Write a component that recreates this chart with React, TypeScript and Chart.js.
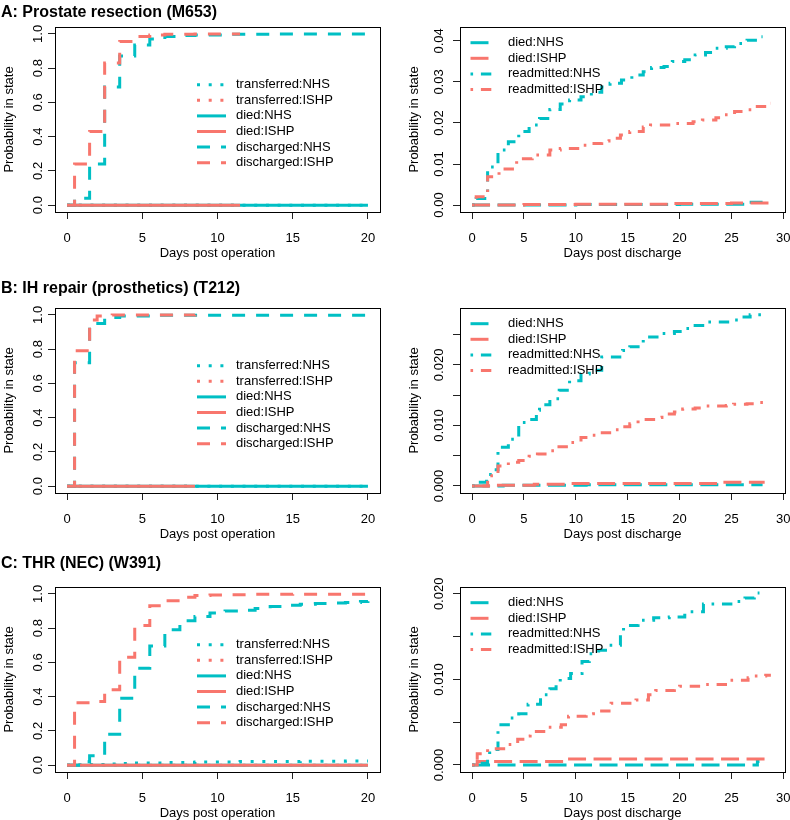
import React, { useEffect, useRef } from 'react';
import { Chart, registerables } from 'chart.js';
Chart.register(...registerables);

type Pt = [number, number];

const NHS = '#00BFC4';
const ISHP = '#F8766D';
const FONT = '"Liberation Sans", Arial, Helvetica, sans-serif';

// ---------- tick values ----------
const LEFT_X_TICKS = [0, 5, 10, 15, 20];
const RIGHT_X_TICKS = [0, 5, 10, 15, 20, 25, 30];
const LEFT_Y_TICKS = [0, 0.2, 0.4, 0.6, 0.8, 1.0];
const A_R_Y_TICKS = [0, 0.01, 0.02, 0.03, 0.04];
const B_R_Y_TICKS = [0, 0.005, 0.01, 0.015, 0.02, 0.025];
const C_R_Y_TICKS = [0, 0.005, 0.01, 0.015, 0.02];
const B_R_Y_LABELED = [0, 0.01, 0.02];
const C_R_Y_LABELED = [0, 0.01, 0.02];

// ---------- A: Prostate resection (M653) ----------
const A_transNHS: Pt[] = [[0, 0], [20, 0]];
const A_transISHP: Pt[] = [[0, 0], [11.5, 0]];
const A_diedNHS: Pt[] = [[0, 0], [20, 0]];
const A_diedISHP: Pt[] = [[0, 0], [11.5, 0]];
const A_disNHS: Pt[] = [[0, 0], [0.5, 0.04], [1.5, 0.24], [2.5, 0.69], [3.5, 0.87], [4.5, 0.935], [5.5, 0.97], [6.5, 0.984], [7.5, 0.99], [8.5, 0.994], [10.5, 0.997], [13.5, 0.999], [20, 0.999]];
const A_disISHP: Pt[] = [[0, 0], [0.5, 0.24], [1.5, 0.43], [2.5, 0.83], [3.5, 0.955], [4.5, 0.984], [5.5, 0.993], [6.5, 0.997], [8.5, 0.999], [11.5, 0.999]];

const A_r_diedNHS: Pt[] = [[0, 0], [10, 0.0001], [20, 0.0002], [26.5, 0.0007], [28, 0.0007]];
const A_r_diedISHP: Pt[] = [[0, 0], [5, 0.0001], [10, 0.0002], [19, 0.0004], [25, 0.0005], [28.8, 0.0005]];
const A_r_readNHS: Pt[] = [[0, 0], [0.4, 0.0016], [1.5, 0.0093], [2.5, 0.0134], [3.5, 0.0154], [4.5, 0.0179], [5.5, 0.0195], [6.5, 0.0211], [7.5, 0.0233], [8.5, 0.0246], [9.4, 0.0256], [10.5, 0.0264], [11.5, 0.0275], [12.5, 0.0288], [13.3, 0.0297], [14.4, 0.0305], [15.4, 0.0317], [16.5, 0.0325], [17.3, 0.0335], [18.5, 0.0338], [19.3, 0.035], [20.5, 0.0354], [21.5, 0.0366], [22.5, 0.0372], [23.3, 0.0382], [24.5, 0.0386], [25.3, 0.0394], [26.5, 0.0402], [27.5, 0.041], [28, 0.041]];
const A_r_readISHP: Pt[] = [[0, 0], [0.4, 0.002], [1.5, 0.0069], [2.6, 0.0088], [4.3, 0.0113], [5.8, 0.0122], [7.5, 0.0134], [8.5, 0.0138], [10.5, 0.0146], [11.5, 0.015], [12.5, 0.0156], [13.2, 0.0163], [14.3, 0.0171], [15.2, 0.0179], [16.5, 0.019], [17.2, 0.0195], [19.3, 0.0199], [21.3, 0.0203], [22.2, 0.0207], [23.5, 0.0213], [24.3, 0.022], [25.3, 0.0228], [26.3, 0.0232], [27.3, 0.024], [28.4, 0.0248], [28.8, 0.0248]];

// ---------- B: IH repair (prosthetics) (T212) ----------
const B_transNHS: Pt[] = [[0, 0], [20, 0]];
const B_transISHP: Pt[] = [[0, 0], [8.5, 0]];
const B_diedNHS: Pt[] = [[0, 0], [20, 0]];
const B_diedISHP: Pt[] = [[0, 0], [8.5, 0]];
const B_disNHS: Pt[] = [[0, 0], [0.5, 0.72], [1.5, 0.95], [2.5, 0.985], [3.5, 0.994], [5.5, 0.998], [20, 1.0]];
const B_disISHP: Pt[] = [[0, 0], [0.5, 0.79], [1.5, 0.97], [2, 0.994], [3, 0.999], [8.5, 1.0]];

const B_r_diedNHS: Pt[] = [[0, 0], [3, 0.0001], [11, 0.0002], [28, 0.0002]];
const B_r_diedISHP: Pt[] = [[0, 0], [2, 0.0001], [6, 0.0003], [9.5, 0.0004], [17.5, 0.0004], [24, 0.0006], [28.2, 0.0006]];
const B_r_readNHS: Pt[] = [[0, 0], [0.6, 0.0006], [1.4, 0.0019], [2.0, 0.0027], [2.5, 0.0064], [3.5, 0.0077], [4.5, 0.0105], [5.5, 0.011], [6.2, 0.0125], [6.5, 0.0134], [7.5, 0.0144], [8.4, 0.0158], [9.4, 0.0174], [10.5, 0.0185], [11.3, 0.0191], [12.5, 0.0213], [14.5, 0.0224], [15.2, 0.023], [16.5, 0.0246], [18.3, 0.0252], [19.5, 0.0255], [20.4, 0.026], [21.5, 0.0265], [22.5, 0.0271], [24.8, 0.0274], [25.8, 0.0279], [26.8, 0.0283], [28, 0.0283]];
const B_r_readISHP: Pt[] = [[0, 0], [1.5, 0.0017], [2.5, 0.0033], [3.5, 0.0039], [4.5, 0.0042], [5.5, 0.0049], [6.3, 0.0053], [7.5, 0.0058], [8.2, 0.0065], [9.5, 0.0072], [10.5, 0.008], [11.5, 0.0084], [12, 0.0088], [13.5, 0.0093], [14.2, 0.0098], [15.2, 0.0103], [16, 0.011], [17.5, 0.0113], [18.3, 0.0119], [19.5, 0.0122], [20.3, 0.0127], [21.5, 0.0129], [22.5, 0.0132], [24.5, 0.0133], [25.2, 0.0135], [26.5, 0.0136], [27.3, 0.0138], [28.2, 0.0138]];

// ---------- C: THR (NEC) (W391) ----------
const C_transNHS: Pt[] = [[0, 0], [0.5, 0.002], [1.5, 0.004], [2.5, 0.007], [3.5, 0.01], [4.5, 0.013], [6.5, 0.016], [8.5, 0.019], [11.5, 0.021], [15.5, 0.023], [18.5, 0.024], [20, 0.024]];
const C_transISHP: Pt[] = [[0, 0], [20, 0]];
const C_diedNHS: Pt[] = [[0, 0], [20, 0]];
const C_diedISHP: Pt[] = [[0, 0], [20, 0]];
const C_disNHS: Pt[] = [[0, 0], [1, 0.02], [1.5, 0.055], [2.5, 0.18], [3.5, 0.39], [4.5, 0.565], [5.5, 0.695], [6.5, 0.79], [7.5, 0.843], [8.5, 0.868], [9.5, 0.888], [10.5, 0.9], [11.5, 0.905], [12.5, 0.915], [13.5, 0.926], [14.5, 0.934], [15.5, 0.94], [16.5, 0.943], [17.5, 0.946], [18.5, 0.95], [19.5, 0.955], [20, 0.957]];
const C_disISHP: Pt[] = [[0, 0], [0.5, 0.365], [1.5, 0.372], [2.5, 0.44], [3.5, 0.63], [4.5, 0.815], [5.5, 0.93], [6.5, 0.96], [7.5, 0.98], [8.5, 0.99], [9.5, 0.993], [10.5, 0.995], [12.5, 0.997], [15, 0.998], [20, 0.999]];

const C_r_diedNHS: Pt[] = [[0, 0], [27.5, 0.0004], [27.7, 0.0004]];
const C_r_diedISHP: Pt[] = [[0, 0], [0.5, 0.0004], [9.4, 0.0007], [28.8, 0.0007]];
const C_r_readNHS: Pt[] = [[0, 0], [0.6, 0.0002], [1.5, 0.0008], [1.7, 0.0018], [2.5, 0.0047], [3.5, 0.0055], [4.5, 0.006], [5.2, 0.0068], [5.4, 0.0071], [6.6, 0.0082], [7.5, 0.0089], [8.1, 0.0094], [8.5, 0.0101], [9.5, 0.0107], [10.6, 0.0121], [11.3, 0.013], [12.2, 0.0134], [13.2, 0.014], [14.3, 0.0152], [14.6, 0.0163], [16, 0.0169], [17.5, 0.0172], [19, 0.0173], [20.5, 0.0175], [21, 0.0179], [22.3, 0.0188], [25.5, 0.0191], [26.3, 0.0195], [27.2, 0.0201], [27.7, 0.0201]];
const C_r_readISHP: Pt[] = [[0, 0], [0.5, 0.0013], [1.5, 0.0019], [3.5, 0.0024], [4.4, 0.003], [5.3, 0.0034], [5.6, 0.0039], [7.2, 0.0044], [8.6, 0.0047], [9.3, 0.0057], [11, 0.006], [11.7, 0.0063], [13.4, 0.0072], [15.8, 0.0076], [17, 0.0082], [17.7, 0.0087], [19.5, 0.009], [20, 0.0092], [22.4, 0.0094], [24.6, 0.0099], [26.6, 0.0102], [27.2, 0.0104], [28.3, 0.0105], [28.8, 0.0105]];

// ---------- styles ----------
const DOTTED = [3, 8.7];
const SOLID: number[] = [];
const DASHED = [13, 11];
const LONGDASH = [18, 7.5];
const DOTDASH = [2.6, 7.8, 10.4, 7.8];

interface Series { label: string; data: Pt[]; color: string; dash: number[] }

function leftSeries(tN: Pt[], tI: Pt[], dN: Pt[], dI: Pt[], sN: Pt[], sI: Pt[]): Series[] {
  return [
    { label: 'transferred:NHS', data: tN, color: NHS, dash: DOTTED },
    { label: 'transferred:ISHP', data: tI, color: ISHP, dash: DOTTED },
    { label: 'died:NHS', data: dN, color: NHS, dash: SOLID },
    { label: 'died:ISHP', data: dI, color: ISHP, dash: SOLID },
    { label: 'discharged:NHS', data: sN, color: NHS, dash: DASHED },
    { label: 'discharged:ISHP', data: sI, color: ISHP, dash: DASHED },
  ];
}
function rightSeries(dN: Pt[], dI: Pt[], rN: Pt[], rI: Pt[]): Series[] {
  return [
    { label: 'died:NHS', data: dN, color: NHS, dash: LONGDASH },
    { label: 'died:ISHP', data: dI, color: ISHP, dash: LONGDASH },
    { label: 'readmitted:NHS', data: rN, color: NHS, dash: DOTDASH },
    { label: 'readmitted:ISHP', data: rI, color: ISHP, dash: DOTDASH },
  ];
}

interface PanelCfg {
  left: number; top: number; width: number; height: number;
  boxLeft: number; boxRight: number; boxTop: number; boxBottom: number;
  title?: string; titleBaseline?: number;
  xMin: number; xMax: number; xTicks: number[]; xTitle: string;
  yMin: number; yMax: number; yTicks: number[]; yLabeled: number[]; yDigits: number; yLabOff: number;
  side: 'left' | 'right';
  series: Series[];
}

const ROWS = [
  { top: 0, height: 275, boxTop: 27, boxBottom: 212, titleBaseline: 16.5 },
  { top: 275, height: 275, boxTop: 33, boxBottom: 218, titleBaseline: 18 },
  { top: 550, height: 270, boxTop: 37, boxBottom: 222, titleBaseline: 18 },
];

function leftPanel(row: number, title: string, series: Series[]): PanelCfg {
  const r = ROWS[row];
  return {
    left: 0, top: r.top, width: 395, height: r.height,
    boxLeft: 55, boxRight: 380, boxTop: r.boxTop, boxBottom: r.boxBottom,
    title, titleBaseline: r.titleBaseline,
    xMin: -0.8, xMax: 20.8, xTicks: LEFT_X_TICKS, xTitle: 'Days post operation',
    yMin: -0.04, yMax: 1.04, yTicks: LEFT_Y_TICKS, yLabeled: LEFT_Y_TICKS, yDigits: 1, yLabOff: 13.5,
    side: 'left', series,
  };
}
function rightPanel(row: number, yMin: number, yMax: number, yTicks: number[], yLabeled: number[], yDigits: number, series: Series[]): PanelCfg {
  const r = ROWS[row];
  return {
    left: 395, top: r.top, width: 395, height: r.height,
    boxLeft: 65, boxRight: 390, boxTop: r.boxTop, boxBottom: r.boxBottom,
    xMin: -1.16, xMax: 30.16, xTicks: RIGHT_X_TICKS, xTitle: 'Days post discharge',
    yMin, yMax, yTicks, yLabeled, yDigits, yLabOff: 17,
    side: 'right', series,
  };
}

const PANELS: PanelCfg[] = [
  leftPanel(0, 'A: Prostate resection (M653)', leftSeries(A_transNHS, A_transISHP, A_diedNHS, A_diedISHP, A_disNHS, A_disISHP)),
  rightPanel(0, -0.0017, 0.0434, A_R_Y_TICKS, A_R_Y_TICKS, 2, rightSeries(A_r_diedNHS, A_r_diedISHP, A_r_readNHS, A_r_readISHP)),
  leftPanel(1, 'B: IH repair (prosthetics) (T212)', leftSeries(B_transNHS, B_transISHP, B_diedNHS, B_diedISHP, B_disNHS, B_disISHP)),
  rightPanel(1, -0.00116, 0.0294, B_R_Y_TICKS, B_R_Y_LABELED, 3, rightSeries(B_r_diedNHS, B_r_diedISHP, B_r_readNHS, B_r_readISHP)),
  leftPanel(2, 'C: THR (NEC) (W391)', leftSeries(C_transNHS, C_transISHP, C_diedNHS, C_diedISHP, C_disNHS, C_disISHP)),
  rightPanel(2, -0.00082, 0.0208, C_R_Y_TICKS, C_R_Y_LABELED, 3, rightSeries(C_r_diedNHS, C_r_diedISHP, C_r_readNHS, C_r_readISHP)),
];

function makePlugin(cfg: PanelCfg) {
  return {
    id: 'rstyle',
    afterDraw(chart: any) {
      const ctx: CanvasRenderingContext2D = chart.ctx;
      const { left, top, right, bottom } = chart.chartArea;
      const xs = chart.scales.x;
      const ys = chart.scales.y;
      ctx.save();
      // box
      ctx.setLineDash([]);
      ctx.strokeStyle = '#000';
      ctx.lineWidth = 1;
      ctx.strokeRect(Math.round(left) + 0.5, Math.round(top) + 0.5, Math.round(right - left), Math.round(bottom - top));
      // x tick labels + title
      ctx.fillStyle = '#000';
      ctx.font = `13px ${FONT}`;
      ctx.textAlign = 'center';
      ctx.textBaseline = 'alphabetic';
      cfg.xTicks.forEach((v) => ctx.fillText(String(v), xs.getPixelForValue(v), bottom + 30));
      ctx.fillText(cfg.xTitle, (left + right) / 2, bottom + 45);
      // y tick labels (rotated)
      cfg.yLabeled.forEach((v) => {
        const y = ys.getPixelForValue(v);
        ctx.save();
        ctx.translate(left - cfg.yLabOff, y);
        ctx.rotate(-Math.PI / 2);
        ctx.fillText(v.toFixed(cfg.yDigits), 0, 0);
        ctx.restore();
      });
      // y title
      ctx.save();
      ctx.translate(left - 42, (top + bottom) / 2);
      ctx.rotate(-Math.PI / 2);
      ctx.fillText('Probability in state', 0, 0);
      ctx.restore();
      // panel title
      if (cfg.title) {
        ctx.font = `bold 16px ${FONT}`;
        ctx.textAlign = 'left';
        ctx.fillText(cfg.title, 1, cfg.titleBaseline || 16);
      }
      // legend (no box)
      const isLeft = cfg.side === 'left';
      const x1 = left + (isLeft ? 142 : 10.5);
      const x2 = left + (isLeft ? 171 : 36);
      const tx = left + (isLeft ? 181 : 48);
      const y0 = top + (isLeft ? 57.7 : 15.7);
      const dy = 15.6;
      ctx.font = `13px ${FONT}`;
      cfg.series.forEach((s, i) => {
        const y = y0 + i * dy;
        ctx.strokeStyle = s.color;
        ctx.lineWidth = 3;
        ctx.lineCap = 'butt';
        ctx.setLineDash(s.dash);
        ctx.lineDashOffset = 0;
        ctx.beginPath();
        ctx.moveTo(x1, y);
        ctx.lineTo(x2, y);
        ctx.stroke();
        ctx.setLineDash([]);
        ctx.fillStyle = '#000';
        ctx.textAlign = 'left';
        ctx.textBaseline = 'middle';
        ctx.fillText(s.label, tx, y);
      });
      ctx.restore();
    },
  };
}

function Panel({ cfg }: { cfg: PanelCfg }) {
  const ref = useRef<HTMLCanvasElement | null>(null);
  useEffect(() => {
    if (!ref.current) return;
    const chart = new Chart(ref.current, {
      type: 'line',
      data: {
        datasets: cfg.series.map((s, i) => ({
          label: s.label,
          data: s.data.map(([x, y]) => ({ x, y })),
          borderColor: s.color,
          backgroundColor: s.color,
          borderWidth: 3,
          borderDash: s.dash,
          borderCapStyle: 'butt',
          borderJoinStyle: 'miter',
          stepped: 'before',
          pointRadius: 0,
          pointHoverRadius: 0,
          fill: false,
          order: -i,
        })),
      } as any,
      options: {
        animation: false,
        responsive: false,
        maintainAspectRatio: false,
        events: [],
        layout: { padding: { left: 0, top: cfg.boxTop, right: cfg.width - cfg.boxRight, bottom: 0 } },
        plugins: { legend: { display: false }, tooltip: { enabled: false }, title: { display: false } },
        scales: {
          x: {
            type: 'linear', position: 'bottom', min: cfg.xMin, max: cfg.xMax,
            afterBuildTicks: (sc: any) => { sc.ticks = cfg.xTicks.map((v) => ({ value: v })); },
            afterFit: (sc: any) => { sc.height = cfg.height - cfg.boxBottom; },
            ticks: { display: false },
            grid: { drawOnChartArea: false, drawTicks: true, tickLength: 7, color: '#222', lineWidth: 1 },
            border: { display: false },
          },
          y: {
            type: 'linear', position: 'left', min: cfg.yMin, max: cfg.yMax,
            afterBuildTicks: (sc: any) => { sc.ticks = cfg.yTicks.map((v) => ({ value: v })); },
            afterFit: (sc: any) => { sc.width = cfg.boxLeft; },
            ticks: { display: false },
            grid: { drawOnChartArea: false, drawTicks: true, tickLength: 7, color: '#222', lineWidth: 1 },
            border: { display: false },
          },
        },
      } as any,
      plugins: [makePlugin(cfg)],
    });
    return () => chart.destroy();
  }, [cfg]);
  return (
    <canvas
      ref={ref}
      width={cfg.width}
      height={cfg.height}
      style={{ position: 'absolute', left: cfg.left, top: cfg.top, width: cfg.width, height: cfg.height, display: 'block' }}
    />
  );
}

export default function App() {
  return (
    <div style={{ position: 'absolute', left: 0, top: 0, width: 790, height: 820, background: '#fff', overflow: 'hidden' }}>
      {PANELS.map((p, i) => <Panel key={i} cfg={p} />)}
    </div>
  );
}
